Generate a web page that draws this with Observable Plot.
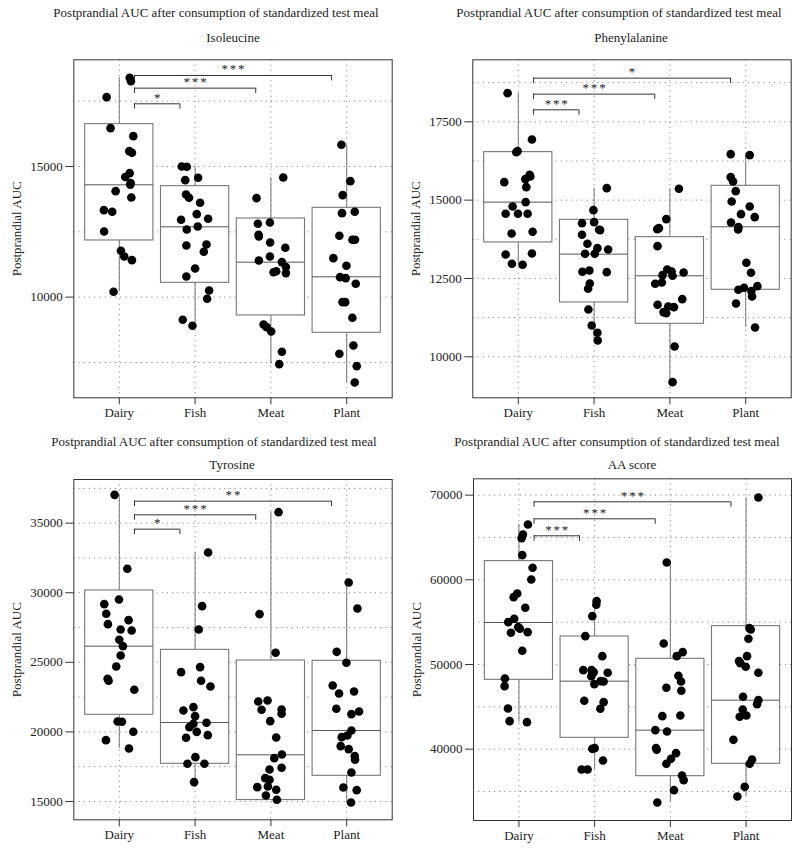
<!DOCTYPE html>
<html>
<head>
<meta charset="utf-8">
<script src="https://cdn.jsdelivr.net/npm/d3@7"></script>
<script src="https://cdn.jsdelivr.net/npm/@observablehq/plot@0.6"></script>
<style>
  body { margin: 0; background: #fff; font-family: "Liberation Serif", "DejaVu Serif", serif; color: #222; }
  #wrap { position: relative; width: 800px; height: 851px; overflow: hidden; }
  .panel { position: absolute; width: 400px; height: 425px; }
  .ttl { position: absolute; width: 400px; text-align: center; font-size: 13px; line-height: 16px; white-space: nowrap; }
  .panel svg { position: absolute; left: 0; }
  .stars text { letter-spacing: 1.8px; }
</style>
</head>
<body>
<div id="wrap"></div>
<script>
const categories = ["Dairy", "Fish", "Meat", "Plant"];
const mainTitle = "Postprandial AUC after consumption of standardized test meal";
const yLabel = "Postprandial AUC";

// ---------- Isoleucine ----------
const isoDairy = [18393,18265,17653,16467,16161,15587,15523,14745,14600,14362,14300,14056,13814,13329,13265,12513,11773,11556,11416,10204];
const isoDairyJit = [0.137,0.154,-0.167,-0.115,0.185,0.132,0.167,0.137,0.079,0.15,0.145,-0.048,0.159,-0.203,-0.093,-0.2,0.022,0.066,0.167,-0.075];
const isoFish = [15000,14987,14477,14566,13929,13801,13610,13176,12959,12997,12704,12589,11977,12015,11735,11097,10791,10255,9936,9133,8903];
const isoFishJit = [-0.176,-0.11,-0.13,0.04,-0.12,-0.08,0.066,0.022,-0.185,0.172,0.035,-0.11,-0.115,0.15,0.115,0,-0.115,0.185,0.159,-0.163,-0.035];
const isoMeat = [14579,13788,12806,12857,12385,12321,12092,11888,11556,11403,11340,11150,10990,10920,10950,8954,8852,8686,7908,7436];
const isoMeatJit = [0.163,-0.19,-0.172,-0.013,-0.163,-0.159,-0.01,0.19,-0.013,-0.159,0.145,0.198,0.07,0.198,0.035,-0.097,-0.057,0.004,0.145,0.11];
const isoPlant = [15829,14439,13903,13214,13265,12347,12194,12194,11492,11199,10765,10727,10510,9809,9809,9209,8151,7832,7360,6735];
const isoPlantJit = [-0.07,0.048,-0.053,-0.062,0.106,-0.097,0.075,0.11,-0.176,-0.004,-0.088,-0.013,0.119,-0.055,-0.02,0.075,0.088,-0.097,0.132,0.106];
// [lower whisker, Q1, median, Q3, upper whisker] per category
const isoBoxes = [[10204,12168,14298,16620,18393],[8903,10548,12691,14247,15000],[7436,9298,11339,13010,14579],[6735,8635,10778,13418,15829]];
const isoBrackets = [["Fish","*",17398],["Meat","***",17997],["Plant","***",18482]];
const isoDomain = [6148, 19082];
const isoLabelTicks = [10000, 15000];
const isoGridTicks = [7500, 10000, 12500, 15000, 17500];

// ---------- Phenylalanine ----------
const pheDairy = [18415,16936,16532,16564,15574,15809,15755,15670,15415,14798,14936,14564,14564,14564,13936,13989,13266,13298,12968,12936];
const pheDairyJit = [-0.141,0.18,-0.026,-0.009,-0.185,0.15,0.159,0.093,0.106,-0.075,0.097,-0.167,-0.004,0.123,-0.088,0.189,-0.167,0.18,-0.084,0.057];
const pheFish = [15383,14681,14266,14298,14053,14043,13894,13606,13468,13426,13287,13287,12713,12755,12702,12340,12170,11511,11000,10766,10521];
const pheFishJit = [0.167,-0.009,-0.159,0,0.066,0.08,-0.159,-0.088,0.044,0.185,-0.119,0.009,-0.154,-0.062,0.167,-0.057,-0.079,-0.075,-0.031,0.044,0.048];
const pheMeat = [15362,14394,14074,14106,13532,12787,12606,12723,12585,12691,12330,12372,11660,11426,11394,11606,11585,11840,10330,9191];
const pheMeatJit = [0.119,-0.048,-0.167,-0.145,-0.163,-0.035,-0.097,0.022,0.035,0.181,-0.194,-0.106,-0.163,-0.084,-0.048,-0.022,0.053,0.163,0.062,0.035];
const phePlant = [16468,16436,15734,15596,15287,14957,14553,14798,14457,14287,14138,14064,13000,12681,12138,12202,12096,12255,11926,11702,10936];
const phePlantJit = [-0.198,0.053,-0.198,-0.167,-0.132,-0.185,-0.062,0.053,0.119,-0.194,-0.097,-0.1,0.009,0.07,-0.097,-0.022,0.075,0.154,0.084,-0.128,0.123];
const pheBoxes = [[12936,13649,14936,16532,18415],[10521,11734,13277,14372,15383],[9191,11053,12585,13819,15362],[10936,12138,14149,15457,16436]];
const pheBrackets = [["Fish","***",17883],["Meat","***",18383],["Plant","*",18894]];
const pheDomain = [8691, 19479];
const pheLabelTicks = [10000, 12500, 15000, 17500];
const pheGridTicks = [10000, 11250, 12500, 13750, 15000, 16250, 17500, 18750];

// ---------- Tyrosine ----------
const tyrDairy = [37036,31719,29515,29180,28485,28030,27743,27359,27287,26617,26162,25491,24701,23814,23671,23024,20749,20725,20006,19407,18808];
const tyrDairyJit = [-0.062,0.106,-0.004,-0.198,-0.172,0.123,-0.15,0.018,0.163,0,0.048,0.018,-0.04,-0.154,-0.141,0.198,-0.022,0.035,0.185,-0.176,0.128];
const tyrFish = [32892,29036,27359,24293,24653,23671,23263,21539,21778,21132,20341,20581,20653,20000,19575,19766,18186,17707,17707,16389];
const tyrFishJit = [0.172,0.093,0.048,-0.185,0.066,0.079,0.203,-0.154,-0.022,0,-0.075,-0.022,0.15,0.022,-0.119,0.167,0.004,-0.101,0.123,-0.013];
const tyrMeat = [35790,28461,25683,22186,22257,21587,21611,21299,20772,19599,18377,18114,17419,17299,16677,16557,16030,16078,15838,15431,15120];
const tyrMeatJit = [0.101,-0.15,0.062,-0.167,-0.044,-0.123,0.141,0.141,-0.009,0.07,0.145,0.044,0.141,-0.018,-0.075,-0.018,-0.18,-0.04,0.07,-0.066,0.079];
const tyrPlant = [30737,28868,25754,24964,23335,22760,22904,21659,21467,21275,20102,19623,19743,18976,18760,18257,17994,17084,16006,15814,14928];
const tyrPlantJit = [0.026,0.141,-0.132,-0.004,-0.185,-0.101,0.097,-0.137,0.163,0.062,0.062,-0.066,0.009,-0.079,0.026,0.106,0.11,0.062,-0.044,0.132,0.057];
const tyrBoxes = [[18808,21228,26162,30162,37036],[16389,17707,20677,25898,32892],[15100,15100,18353,25132,35790],[14928,16844,20102,25108,30737]];
const tyrBrackets = [["Fish","*",34569],["Meat","***",35599],["Plant","**",36581]];
const tyrDomain = [13683, 38138];
const tyrLabelTicks = [15000, 20000, 25000, 30000, 35000];
const tyrGridTicks = [15000, 17500, 20000, 22500, 25000, 27500, 30000, 32500, 35000, 37500];

// ---------- AA score ----------
const aaDairy = [66535,65354,64921,62913,61417,60039,58386,57953,56693,55394,55000,54409,54213,53740,53819,51614,48346,47441,44803,43307,43189];
const aaDairyJit = [0.119,0.053,0.035,0.044,0.18,0.163,-0.022,-0.07,0.084,-0.062,-0.141,-0.009,0.013,-0.106,0.115,0.044,-0.185,-0.189,-0.145,-0.123,0.106];
const aaFish = [57480,57047,55709,53346,50984,49331,49331,49094,48622,49016,48031,47992,47677,45709,45551,44764,40039,40118,37598,37598,38661];
const aaFishJit = [0.026,0.022,-0.031,-0.123,0.101,-0.15,-0.04,-0.013,-0.044,0.172,0.079,0.119,-0.004,-0.137,0.119,0.075,-0.031,0,-0.172,-0.093,0.11];
const aaMeat = [62047,52480,50984,51457,48661,47992,46890,47244,43898,43976,42244,42087,40118,39921,39528,38858,38268,36890,36339,35157,33701];
const aaMeatJit = [-0.048,-0.088,0.084,0.163,0.106,0.141,0.145,-0.053,-0.106,0.132,-0.198,-0.044,-0.189,-0.181,0.075,0.009,-0.053,0.154,0.176,0.048,-0.172];
const aaPlant = [69724,54291,54134,53031,50984,50394,50157,49724,49016,46181,45787,45315,44685,43819,43976,41102,38780,38268,35551,34409];
const aaPlantJit = [0.163,0.044,0.062,0.031,0.013,-0.093,-0.075,-0.004,0.163,-0.04,0.163,0.145,-0.044,-0.084,0.004,-0.167,0.079,0.048,-0.018,-0.115];
const aaBoxes = [[43189,48189,54961,62205,66535],[37598,41339,48031,53307,57480],[33701,36811,42244,50669,62047],[34409,38268,45787,54528,69724]];
const aaBrackets = [["Fish","***",65197],["Meat","***",67205],["Plant","***",69213]];
const aaDomain = [31575, 71929];
const aaLabelTicks = [40000, 50000, 60000, 70000];
const aaGridTicks = [35000, 40000, 45000, 50000, 55000, 60000, 65000, 70000];

const panels = [
  {sub: "Isoleucine", groups: [isoDairy, isoFish, isoMeat, isoPlant], jit: [isoDairyJit, isoFishJit, isoMeatJit, isoPlantJit],
   boxes: isoBoxes, brackets: isoBrackets, domain: isoDomain, labelTicks: isoLabelTicks, gridTicks: isoGridTicks,
   left: 0, top: 0, titleX: 216, subX: 233, titleY: 13, subY: 38, svgTop: 50, height: 375, mt: 9.3, mb: 27.7, ml: 73.3, mr: 8.3},
  {sub: "Phenylalanine", groups: [pheDairy, pheFish, pheMeat, phePlant], jit: [pheDairyJit, pheFishJit, pheMeatJit, phePlantJit],
   boxes: pheBoxes, brackets: pheBrackets, domain: pheDomain, labelTicks: pheLabelTicks, gridTicks: pheGridTicks,
   left: 400, top: 0, titleX: 219, subX: 231, titleY: 13, subY: 38, svgTop: 50, height: 375, mt: 9.3, mb: 27.7, ml: 72.3, mr: 9.3},
  {sub: "Tyrosine", groups: [tyrDairy, tyrFish, tyrMeat, tyrPlant], jit: [tyrDairyJit, tyrFishJit, tyrMeatJit, tyrPlantJit],
   boxes: tyrBoxes, brackets: tyrBrackets, domain: tyrDomain, labelTicks: tyrLabelTicks, gridTicks: tyrGridTicks,
   left: 0, top: 425, titleX: 214, subX: 232, titleY: 17, subY: 40, svgTop: 45, height: 380, mt: 9, mb: 30.7, ml: 73.3, mr: 8.3},
  {sub: "AA score", groups: [aaDairy, aaFish, aaMeat, aaPlant], jit: [aaDairyJit, aaFishJit, aaMeatJit, aaPlantJit],
   boxes: aaBoxes, brackets: aaBrackets, domain: aaDomain, labelTicks: aaLabelTicks, gridTicks: aaGridTicks,
   left: 400, top: 425, titleX: 217, subX: 232, titleY: 17, subY: 40, svgTop: 45, height: 380, mt: 8.3, mb: 30, ml: 73, mr: 9}
];

const wrap = document.getElementById("wrap");
const half = 0.45;

for (const p of panels) {
  const div = document.createElement("div");
  div.className = "panel";
  div.style.left = p.left + "px";
  div.style.top = p.top + "px";
  const t = document.createElement("div");
  t.className = "ttl"; t.textContent = mainTitle;
  t.style.left = (p.titleX - 200) + "px"; t.style.top = (p.titleY - 8) + "px";
  const s = document.createElement("div");
  s.className = "ttl"; s.textContent = p.sub;
  s.style.left = (p.subX - 200) + "px"; s.style.top = (p.subY - 8) + "px";
  div.appendChild(t); div.appendChild(s);

  const pts = [];
  p.groups.forEach((vals, gi) => vals.forEach((v, k) => pts.push({x: gi + 1 + p.jit[gi][k], y: v})));
  const bx = p.boxes.map((b, i) => ({i: i + 1, lo: b[0], q1: b[1], med: b[2], q3: b[3], hi: b[4]}));
  const span = p.domain[1] - p.domain[0];
  const br = p.brackets.map(([to, label, y]) => ({x1: 1.2, x2: categories.indexOf(to) + 1 - 0.2, y, label}));
  const tick = span * 0.016;

  const svg = Plot.plot({
    width: 400, height: p.height,
    marginTop: p.mt, marginBottom: p.mb, marginLeft: p.ml, marginRight: p.mr,
    style: {fontFamily: '"Liberation Serif", "DejaVu Serif", serif', fontSize: "13px", color: "#222", background: "transparent"},
    x: {type: "linear", domain: [0.4, 4.6], axis: null},
    y: {type: "linear", domain: p.domain, axis: null},
    marks: [
      Plot.gridY(p.gridTicks, {stroke: "#8a8a8a", strokeOpacity: 1, strokeDasharray: "1.2,4"}),
      Plot.gridX([1, 2, 3, 4], {stroke: "#8a8a8a", strokeOpacity: 1, strokeDasharray: "1.2,4"}),
      Plot.ruleX(bx, {x: "i", y1: "lo", y2: "hi", stroke: "#777", strokeWidth: 1}),
      Plot.rect(bx, {x1: d => d.i - half, x2: d => d.i + half, y1: "q1", y2: "q3", fill: "white", stroke: "#777", strokeWidth: 1.1}),
      Plot.ruleY(bx, {x1: d => d.i - half, x2: d => d.i + half, y: "med", stroke: "#555", strokeWidth: 1}),
      Plot.dot(pts, {x: "x", y: "y", r: 4.3, fill: "black", stroke: null}),
      Plot.ruleY(br, {x1: "x1", x2: "x2", y: "y", stroke: "#333", strokeWidth: 1}),
      Plot.ruleX(br, {x: "x1", y1: "y", y2: d => d.y - tick, stroke: "#333", strokeWidth: 1}),
      Plot.ruleX(br, {x: "x2", y1: "y", y2: d => d.y - tick, stroke: "#333", strokeWidth: 1}),
      Plot.text(br, {x: d => (d.x1 + d.x2) / 2, y: "y", text: "label", lineAnchor: "bottom", dy: -2, dx: 0.9, fontSize: 13, fill: "#222", className: "stars"}),
      Plot.frame({stroke: "#333", strokeWidth: 1}),
      Plot.axisY(p.labelTicks, {tickFormat: "d", tickSize: 8, tickPadding: 3, label: yLabel, labelAnchor: "center", labelArrow: "none", labelOffset: 62, stroke: "#333"}),
      Plot.axisX([1, 2, 3, 4], {tickFormat: d => categories[d - 1], tickSize: 7, tickPadding: 3, label: null, stroke: "#333"})
    ]
  });
  svg.style.top = p.svgTop + "px";
  div.appendChild(svg);
  wrap.appendChild(div);
}
</script>
</body>
</html>
